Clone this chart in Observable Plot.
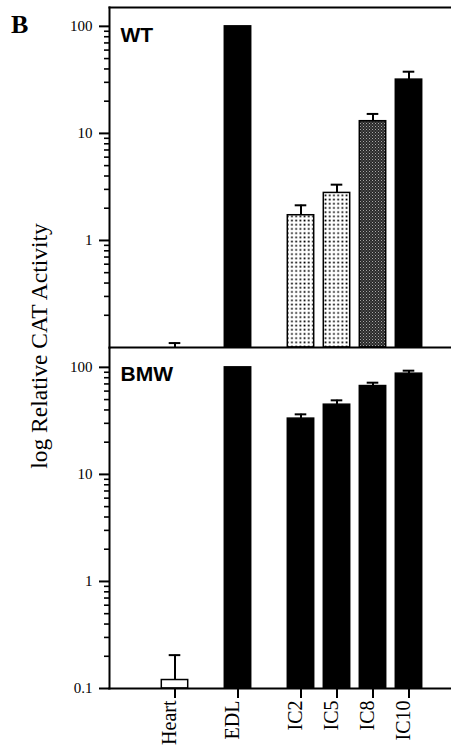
<!DOCTYPE html>
<html><head><meta charset="utf-8">
<script src="https://cdn.jsdelivr.net/npm/d3@7"></script>
<script src="https://cdn.jsdelivr.net/npm/@observablehq/plot@0.6"></script>
<style>
body{margin:0;background:#fff}
#wrap{position:relative;width:451px;height:750px;overflow:hidden;background:#fff}
#wrap svg{display:block}
.letter{position:absolute;left:11px;top:12px;font:bold 26px "Liberation Serif";line-height:1;color:#000}
.ytitle{position:absolute;left:40px;top:346px;transform:translate(-50%,-50%) rotate(-90deg);font:23.5px "Liberation Serif";white-space:nowrap;line-height:1;color:#000}
</style></head><body>
<div id="wrap"><div class="letter">B</div><div class="ytitle">log Relative CAT Activity</div></div>
<script>
// ---- data ----
const categories = ["Heart", "EDL", "IC2", "IC5", "IC8", "IC10"];
const wtValues  = [0.1, 100, 1.72, 2.78, 13.0, 31.8];
const wtErrors  = [0.11, null, 2.13, 3.32, 15.2, 37.7];
const bmwValues = [0.12, 100, 33.2, 44.8, 66.9, 87.3];
const bmwErrors = [0.205, null, 36.4, 49.2, 71.9, 93.1];
const majorTicksTop = [1, 10, 100];
const majorTicksBottom = [0.1, 1, 10, 100];
const minorTicks = [0.2,0.3,0.4,0.5,0.6,0.7,0.8,0.9, 2,3,4,5,6,7,8,9, 20,30,40,50,60,70,80,90];

// ---- layout (spacing of category slots) ----
const gapUnits = [0, 7, 7, 4, 4, 4];
const xDomain = [];
categories.forEach((c, i) => {
  if (i > 0) for (let k = 1; k < gapUnits[i]; k++) xDomain.push(`_gap${i}_${k}`);
  xDomain.push(c);
});

function rows(panel, values, errors) {
  return categories.map((cat, i) => ({panel, cat, value: values[i], err: errors[i]}));
}
function fillFor(d) {
  if (d.cat === "Heart") return "white";
  if (d.panel === "WT" && (d.cat === "IC2" || d.cat === "IC5")) return "url(#dots)";
  if (d.panel === "WT" && d.cat === "IC8") return "url(#stipple)";
  return "black";
}

const W = 451, ML = 109;
const serif = "Liberation Serif";

function makePanel({name, data, height, marginTop, marginBottom, major, frames, xAxis, labelDy}) {
  const fills = [...new Set(data.map(fillFor))];
  const withErr = data.filter(d => d.err != null);
  const marks = [
    ...fills.map(f => Plot.barY(data.filter(d => fillFor(d) === f), {
      x: "cat", y1: 0.1, y2: "value", fill: f, stroke: "black", strokeWidth: 1.5,
      insetLeft: -8.7, insetRight: -8.7
    })),
    Plot.ruleX(withErr, {x: "cat", y1: "value", y2: "err", stroke: "black", strokeWidth: 2}),
    Plot.tickY(withErr, {x: "cat", y: "err", stroke: "black", strokeWidth: 2, insetLeft: -1.3, insetRight: -1.3}),
    ...frames.map(a => Plot.frame({anchor: a, stroke: "black", strokeWidth: 2})),
    Plot.axisY({ticks: minorTicks, tickSize: 5, strokeWidth: 1.6, tickFormat: () => "", label: null}),
    Plot.axisY({ticks: major, tickSize: 10, strokeWidth: 2, tickFormat: () => "", label: null}),
    Plot.text(major, {y: d => d, text: d => String(d), frameAnchor: "left", dx: -17, textAnchor: "end",
      lineAnchor: "middle", fontSize: 15, fontFamily: serif, fill: "black"}),
    Plot.text([name], {frameAnchor: "top-left", dx: 11, dy: labelDy, textAnchor: "start", lineAnchor: "top",
      fontFamily: "Liberation Sans", fontWeight: "bold", fontSize: 21, fill: "black"})
  ];
  if (xAxis) {
    marks.push(Plot.axisX({ticks: categories, tickSize: 10, strokeWidth: 2, tickFormat: () => "", label: null}));
    marks.push(Plot.text(categories, {x: d => d, text: d => d, frameAnchor: "bottom", rotate: -90,
      textAnchor: "end", lineAnchor: "middle", dy: 12, dx: -5, fontSize: 20, fontFamily: serif, fill: "black"}));
  }
  return Plot.plot({
    width: W, height, marginLeft: ML, marginRight: 0, marginTop, marginBottom,
    style: {fontFamily: serif, color: "black", background: "white", overflow: "visible"},
    x: {type: "band", domain: xDomain, paddingInner: 0, paddingOuter: 4.42, align: 0.619, axis: null},
    y: {type: "log", domain: [0.1, 150], axis: null},
    marks
  });
}

const topSvg = makePanel({name: "WT", data: rows("WT", wtValues, wtErrors), height: 348, marginTop: 7, marginBottom: 1,
  major: majorTicksTop, frames: ["top", "left", "bottom"], xAxis: false, labelDy: 20});
const bottomSvg = makePanel({name: "BMW", data: rows("BMW", bmwValues, bmwErrors), height: 402, marginTop: 0, marginBottom: 62,
  major: majorTicksBottom, frames: ["left", "bottom"], xAxis: true, labelDy: 18});

const ns = "http://www.w3.org/2000/svg";
const defs = document.createElementNS(ns, "defs");
defs.innerHTML = `
<pattern id="dots" width="4.2" height="4.2" patternUnits="userSpaceOnUse">
  <rect width="4.2" height="4.2" fill="white"/><rect x="1.3" y="1.3" width="1.7" height="1.7" fill="black"/>
</pattern>
<pattern id="stipple" width="3" height="3" patternUnits="userSpaceOnUse">
  <rect width="3" height="3" fill="#2a2a2a"/><rect x="0" y="0" width="1" height="1" fill="#a8a8a8"/><rect x="1.5" y="1.5" width="1" height="1" fill="#808080"/>
</pattern>`;
topSvg.insertBefore(defs, topSvg.firstChild);

const wrap = document.getElementById("wrap");
wrap.insertBefore(bottomSvg, wrap.firstChild);
wrap.insertBefore(topSvg, wrap.firstChild);
</script>
</body></html>
